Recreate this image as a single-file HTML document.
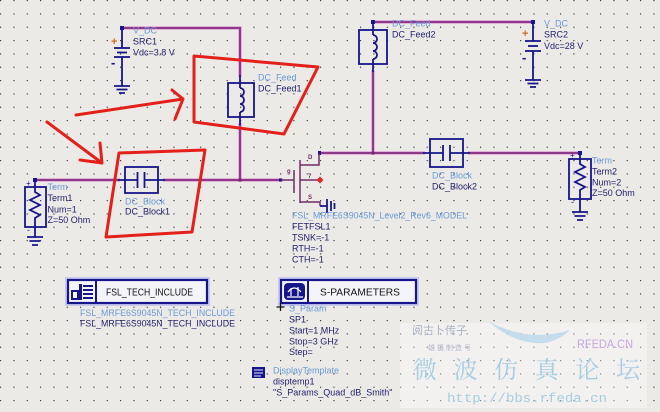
<!DOCTYPE html>
<html><head><meta charset="utf-8"><style>
html,body{margin:0;padding:0;background:#eceae7;}
svg{display:block;font-family:"Liberation Sans",Arial,sans-serif;font-size:9px;}
.lb{fill:#6b9ad6;}
.dk{fill:#22226a;}
.nv{stroke:#16168a;stroke-width:1.8;fill:none;}
.wh{stroke:#e2b2da;stroke-width:4;fill:none;stroke-linecap:square;}
.wc{stroke:#8e3a8a;stroke-width:2;fill:none;stroke-linecap:square;}
.red{stroke:#e4201b;stroke-width:3;fill:none;stroke-linecap:round;stroke-linejoin:round;}
.fet{stroke:#6e2c66;stroke-width:1.5;fill:none;}
</style></head><body>
<svg width="660" height="412" viewBox="0 0 660 412" xmlns="http://www.w3.org/2000/svg">
<defs>
<pattern id="g" x="0" y="0" width="13.333" height="13.333" patternUnits="userSpaceOnUse">
<rect x="0" y="0" width="1.2" height="1.2" fill="#3c3c3c"/>
</pattern>
</defs>
<rect width="660" height="412" fill="#eceae7"/>
<rect width="660" height="412" fill="url(#g)"/>

<!-- wires halo -->
<g class="wh">
<path d="M122,28 H240 V75"/>
<path d="M240,125 V180"/>
<path d="M35,180 H118"/>
<path d="M165,180 H281"/>
<path d="M320,153 H423"/>
<path d="M470,153 H580"/>
<path d="M373,22 H533"/>
<path d="M373,72 V153"/>
</g>
<g class="wc">
<path d="M122,28 H240 V75"/>
<path d="M240,125 V180"/>
<path d="M35,180 H118"/>
<path d="M165,180 H281"/>
<path d="M320,153 H423"/>
<path d="M470,153 H580"/>
<path d="M373,22 H533"/>
<path d="M373,72 V153"/>
</g>
<!-- junction dots -->
<g fill="#16168a">
<rect x="120" y="26" width="4" height="4"/>
<rect x="238.5" y="178.5" width="3" height="3" fill="#6e2c66"/>
<rect x="371.5" y="151.5" width="3" height="3" fill="#6e2c66"/>
<rect x="33" y="178" width="4" height="4"/>
<rect x="578" y="151" width="4" height="4"/>
<rect x="371" y="20" width="4" height="4"/>
<rect x="531" y="20" width="4" height="4"/>
<rect x="318" y="151" width="3" height="4"/>
<rect x="279" y="178.5" width="3" height="3"/>
</g>

<!-- SRC1 -->
<g class="nv">
<path d="M122,28 V48"/>
<path d="M114,48 H130"/>
<path d="M117,52.5 H127"/>
<path d="M114,57 H130"/>
<path d="M122,57 V86"/>
<path d="M114,86 H130 M116.5,89.5 H127.5 M119,93 H125"/>
</g>
<text x="111" y="45" fill="#d86a1c" font-size="11" font-weight="bold">+</text>
<text x="111" y="67" fill="#16168a" font-size="13" font-weight="bold">-</text>
<text x="133" y="33.5" class="lb">V_DC</text>
<text x="133" y="44.5" class="dk">SRC1</text>
<text x="133" y="55.5" class="dk">Vdc=3.8 V</text>

<!-- SRC2 -->
<g class="nv">
<path d="M533,22 V41"/>
<path d="M525,41 H541"/>
<path d="M528,46 H538"/>
<path d="M525,51 H541"/>
<path d="M533,51 V80"/>
<path d="M525,80 H541 M527.5,83.5 H538.5 M530,87 H536"/>
</g>
<text x="522" y="37" fill="#d86a1c" font-size="11" font-weight="bold">+</text>
<text x="522" y="62" fill="#16168a" font-size="13" font-weight="bold">-</text>
<text x="544" y="26.5" class="lb">V_DC</text>
<text x="544" y="37.5" class="dk">SRC2</text>
<text x="544" y="49" class="dk">Vdc=28 V</text>

<!-- DC_Feed1 -->
<g class="nv">
<path d="M240,75 V88"/>
<rect x="228" y="83" width="26" height="34"/>
<path d="M240,88 a4,4 0 0 1 0,8 a4,4 0 0 1 0,8 a4,4 0 0 1 0,8"/>
<path d="M240,112 V125"/>
</g>
<text x="258" y="80.5" class="lb">DC_Feed</text>
<text x="258" y="91.5" class="dk">DC_Feed1</text>

<!-- DC_Feed2 -->
<g class="nv">
<path d="M373,22 V35"/>
<rect x="359" y="30" width="28" height="34"/>
<path d="M373,35 a4,4 0 0 1 0,8 a4,4 0 0 1 0,8 a4,4 0 0 1 0,8"/>
<path d="M373,59 V72"/>
</g>
<text x="392" y="26.5" class="lb">DC_Feed</text>
<text x="392" y="37.5" class="dk">DC_Feed2</text>

<!-- Term1 -->
<g class="nv">
<rect x="25" y="187" width="21" height="40"/>
<path d="M35,180 V192 L40,195 L30,200 L40,205 L30,210 L40,215 L35,218 V237"/>
<path d="M27,237 H43 M29.5,241 H40.5 M32,245 H38"/>
</g>
<text x="26" y="186" fill="#16168a" font-size="8">+</text>
<text x="27" y="233" fill="#16168a" font-size="9">-</text>
<text x="47.5" y="190" class="lb">Term</text>
<text x="47.5" y="201" class="dk">Term1</text>
<text x="47.5" y="212.5" class="dk">Num=1</text>
<text x="47.5" y="223" class="dk">Z=50 Ohm</text>

<!-- Term2 -->
<g class="nv">
<rect x="569" y="159" width="22" height="40"/>
<path d="M580,153 V164 L585,167 L575,172 L585,177 L575,182 L585,187 L580,190 V212"/>
<path d="M572,212 H588 M574.5,216 H585.5 M577,220 H583"/>
</g>
<text x="570" y="158" fill="#16168a" font-size="8">+</text>
<text x="571" y="205" fill="#16168a" font-size="9">-</text>
<text x="592" y="163.5" class="lb">Term</text>
<text x="592" y="174.5" class="dk">Term2</text>
<text x="592" y="185.5" class="dk">Num=2</text>
<text x="592" y="196" class="dk">Z=50 Ohm</text>

<!-- DC_Block1 -->
<g class="nv">
<rect x="125" y="167" width="33" height="26"/>
<path d="M118,180 H137 M145,180 H165"/>
<path d="M137.5,172 V188 M144.5,172 V188"/>
</g>
<text x="125" y="204.5" class="lb">DC_Block</text>
<text x="125" y="214.5" class="dk">DC_Block1</text>

<!-- DC_Block2 -->
<g class="nv">
<rect x="430" y="139" width="33" height="28"/>
<path d="M423,153 H443 M450,153 H470"/>
<path d="M443,145 V161 M450,145 V161"/>
</g>
<text x="432" y="178.5" class="lb">DC_Block</text>
<text x="432" y="189.5" class="dk">DC_Block2</text>

<!-- FET -->
<g class="fet">
<path d="M281,180 H294"/>
<path d="M294,170 V193"/>
<path d="M300,160 V203"/>
<path d="M300,165 H319 V153"/>
<path d="M300,180 H320"/>
<path d="M300,202 H320 V206"/>
</g>
<path d="M320,176.5 L323.5,180 L320,183.5 L316.5,180 Z" fill="#e02828"/>
<g class="nv">
<path d="M320,206 H327"/>
<path d="M327,199 V213"/>
<path d="M331,201 V211"/>
<path d="M334.5,203 V209"/>
</g>
<g fill="#6e2c66" font-size="6" font-weight="bold">
<text x="308" y="159">D</text>
<text x="287" y="173">g</text>
<text x="308" y="178">7</text>
<text x="308" y="199">S</text>
</g>
<text x="292" y="218.5" class="lb" textLength="175" lengthAdjust="spacingAndGlyphs">FSL_MRFE6S9045N_Level2_Rev6_MODEL</text>
<text x="292" y="229.5" class="dk">FETFSL1</text>
<text x="292" y="240.5" class="dk">TSNK=-1</text>
<text x="292" y="251.5" class="dk">RTH=-1</text>
<text x="292" y="262.5" class="dk">CTH=-1</text>

<!-- FSL_TECH_INCLUDE -->
<rect x="67" y="279" width="141" height="25" fill="none" stroke="#c9c9ef" stroke-width="4"/>
<rect x="68" y="280" width="139" height="23" fill="#f4f4fb" stroke="#16168a" stroke-width="2.2"/>
<path d="M96,280 V303" stroke="#16168a" stroke-width="2"/>
<g fill="#16168a">
<rect x="71" y="290" width="8" height="10"/>
<rect x="79" y="284" width="3" height="16"/>
<rect x="83" y="285" width="10" height="2"/>
<rect x="83" y="289" width="10" height="2"/>
<rect x="83" y="293" width="10" height="2"/>
<rect x="83" y="297" width="10" height="2"/>
</g>
<rect x="73" y="292" width="4" height="6" fill="#fff"/>
<text x="106" y="295.5" fill="#111" font-size="10" textLength="87" lengthAdjust="spacingAndGlyphs">FSL_TECH_INCLUDE</text>
<text x="80" y="316" class="lb" textLength="155" lengthAdjust="spacingAndGlyphs">FSL_MRFE6S9045N_TECH_INCLUDE</text>
<text x="80" y="326.5" class="dk" textLength="155" lengthAdjust="spacingAndGlyphs">FSL_MRFE6S9045N_TECH_INCLUDE</text>

<!-- S-PARAMETERS -->
<rect x="280" y="279" width="137" height="25" fill="none" stroke="#c9c9ef" stroke-width="4"/>
<rect x="281" y="280" width="135" height="23" fill="#f4f4fb" stroke="#16168a" stroke-width="2.2"/>
<path d="M308,280 V303" stroke="#16168a" stroke-width="2"/>
<rect x="284" y="283" width="21" height="17" rx="4" fill="#16168a"/>
<path d="M288,292 q6,-8 13,0 M291,288 v8 M298,287 v9 M287,297 h16" stroke="#fff" stroke-width="1.2" fill="none"/>
<text x="320" y="295.5" fill="#111" font-size="10" textLength="80" lengthAdjust="spacingAndGlyphs">S-PARAMETERS</text>
<path d="M276.5,307 H284.5 M280.5,303 V311" stroke="#111" stroke-width="1.3"/>
<text x="289" y="311.5" class="lb">S_Param</text>
<text x="289" y="322.5" class="dk">SP1</text>
<text x="289" y="333.5" class="dk">Start=1 MHz</text>
<text x="289" y="344.5" class="dk">Stop=3 GHz</text>
<text x="289" y="355" class="dk">Step=</text>

<!-- DisplayTemplate -->
<rect x="252" y="367" width="13" height="11" fill="#16168a"/>
<path d="M254,370 h9 M254,373 h9 M254,376 h7" stroke="#e6e6ff" stroke-width="1"/>
<text x="273" y="373.5" class="lb">DisplayTemplate</text>
<text x="273" y="384.5" class="dk">disptemp1</text>
<text x="273" y="395.5" class="dk">"S_Params_Quad_dB_Smith"</text>

<!-- red annotations -->
<path class="red" d="M194,56 L318,67 L284,134 L194,122 Z"/>
<path class="red" d="M119,153 L205,150 L192,232 L106,237 Z"/>
<path class="red" d="M76,115 L183,99 M172,90 L183,99 L175,119"/>
<path class="red" d="M47,122 L102,163 M80,160 L102,163 L100,143"/>

<!-- watermark -->
<rect x="400" y="323" width="247" height="85" fill="#ffffff" opacity="0.35"/>
<path d="M488,321 Q515,345 545,343 Q560,340 570,330 Q545,338 520,333 Q502,329 488,321 Z" fill="#bcd8ea" opacity="0.85"/>
<text x="412" y="334" fill="#a8b2c4" font-size="11" font-family="'Liberation Sans','Noto Sans CJK SC',sans-serif">阅古卜传子</text>
<text x="428" y="350" fill="#b4b8c8" font-size="7" font-family="'Liberation Sans','Noto Sans CJK SC',sans-serif" letter-spacing="2">雄摄制造号</text>
<text x="577" y="348" fill="#c9a6dc" font-size="12" textLength="56" lengthAdjust="spacingAndGlyphs">RFEDA.CN</text>
<text x="413" y="378" fill="#a6cde2" font-size="24" font-family="'Liberation Serif','Noto Serif CJK SC',serif" textLength="227" lengthAdjust="spacing">微波仿真论坛</text>
<text x="447" y="402" fill="#a6cde2" font-size="13" font-family="'Liberation Mono',monospace" textLength="160" lengthAdjust="spacingAndGlyphs">http://bbs.rfeda.cn</text>
</svg>
</body></html>
